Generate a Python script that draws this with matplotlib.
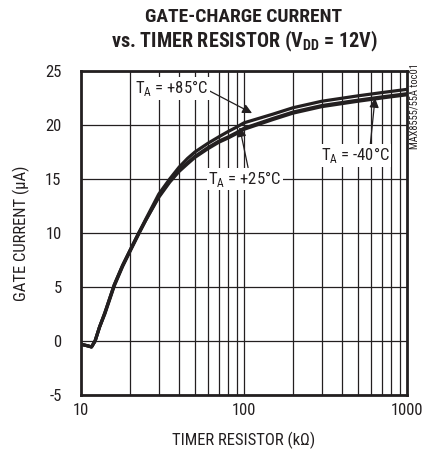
import matplotlib
matplotlib.use("Agg")
import matplotlib.pyplot as plt

plt.rcParams['font.family'] = ['Roboto Condensed', 'Liberation Sans', 'DejaVu Sans']
plt.rcParams['axes.unicode_minus'] = False
plt.rcParams['mathtext.fontset'] = 'custom'
plt.rcParams['mathtext.rm'] = 'Roboto Condensed'
plt.rcParams['mathtext.bf'] = 'Roboto Condensed:bold'

INK = '#231f20'

# timer resistor (kOhm)
r_kohm = [10, 11, 11.6, 12.2, 13, 14, 16, 18, 20, 22.6, 25, 30, 35, 40, 45, 50,
          60, 70, 80, 90, 100, 150, 200, 300, 500, 700, 1000]
# gate current (uA) per temperature
i_85 = [-0.3, -0.45, -0.55, 0.0, 1.3, 2.6, 5.2, 7.0, 8.4, 10.0, 11.3, 13.6,
        15.0, 16.1, 16.9, 17.5, 18.3, 18.9, 19.4, 19.8, 20.2, 21.0, 21.6,
        22.2, 22.7, 23.0, 23.3]
i_25 = [-0.3, -0.45, -0.55, 0.0, 1.3, 2.6, 5.2, 7.0, 8.4, 10.0, 11.2, 13.4,
        14.8, 15.8, 16.5, 17.1, 17.9, 18.5, 18.9, 19.3, 19.7, 20.6, 21.2,
        21.8, 22.3, 22.6, 22.9]
i_m40 = [-0.3, -0.45, -0.55, 0.0, 1.3, 2.5, 5.1, 6.9, 8.3, 9.9, 11.2, 13.3,
         14.7, 15.7, 16.4, 17.0, 17.8, 18.4, 18.8, 19.2, 19.6, 20.5, 21.1,
         21.7, 22.2, 22.5, 22.8]

x_ticks = [10, 100, 1000]
y_ticks = [-5, 0, 5, 10, 15, 20, 25]

fig = plt.figure(figsize=(4.22, 4.57), dpi=100)
ax = fig.add_axes([81/422, 1 - 395/457, 326/422, 324/457])

ax.set_xscale('log')
ax.set_xlim(10, 1000)
ax.set_ylim(-5, 25)

for y in y_ticks:
    ax.axhline(y, color=INK, lw=0.9, zorder=1)
for d in (10, 100):
    for k in range(2, 10):
        ax.axvline(k * d, color=INK, lw=0.9, zorder=1)
ax.axvline(100, color=INK, lw=0.9, zorder=1)

for vals in (i_85, i_25, i_m40):
    ax.plot(r_kohm, vals, color=INK, lw=2.3, solid_joinstyle='round',
            solid_capstyle='round', zorder=3)

box = dict(facecolor='white', edgecolor='none', pad=1.0)
arrow = dict(arrowstyle='-|>', color=INK, lw=0.9, mutation_scale=14,
             shrinkA=0, shrinkB=0)
ax.annotate('T$_\\mathregular{A}$ = +85°C', xy=(112, 21.1), xytext=(36, 23.4),
            ha='center', va='center', fontsize=12, color=INK, bbox=box,
            arrowprops=dict(arrow, relpos=(1.0, 0.4)), zorder=5)
ax.annotate('T$_\\mathregular{A}$ = +25°C', xy=(94, 19.8), xytext=(101, 15.0),
            ha='center', va='center', fontsize=12, color=INK, bbox=box,
            arrowprops=dict(arrow, relpos=(0.55, 1.0)), zorder=5)
ax.annotate('T$_\\mathregular{A}$ = -40°C', xy=(637, 22.5), xytext=(480, 17.2),
            ha='center', va='center', fontsize=12, color=INK, bbox=box,
            arrowprops=dict(arrow, relpos=(0.72, 1.0)), zorder=5)

ax.set_xticks(x_ticks)
ax.set_xticklabels([str(t) for t in x_ticks])
ax.set_yticks(y_ticks)
ax.minorticks_off()
ax.tick_params(length=0, labelsize=12, colors=INK, pad=6)
ax.tick_params(axis='y', pad=14)
for s in ax.spines.values():
    s.set_linewidth(2.0)
    s.set_color(INK)

ax.set_xlabel('TIMER RESISTOR (kΩ)', fontsize=12, color=INK, labelpad=10)
ax.set_ylabel('GATE CURRENT (µA)', fontsize=12, color=INK, labelpad=11)

fig.text(244/422, 1 - 17/457, 'GATE-CHARGE CURRENT', ha='center', va='center',
         fontsize=14, fontweight='bold', color=INK)
fig.text(244/422, 1 - 41/457,
         'vs. TIMER RESISTOR (V$_\\mathbf{DD}$ = 12V)',
         ha='center', va='center', fontsize=14.5, fontweight='bold', color=INK)
fig.text(414/422, 1 - 106/457, 'MAX8555/55A toc01', rotation=90,
         ha='center', va='center', fontsize=7.5, color=INK)

fig.savefig('out.png', dpi=100)
